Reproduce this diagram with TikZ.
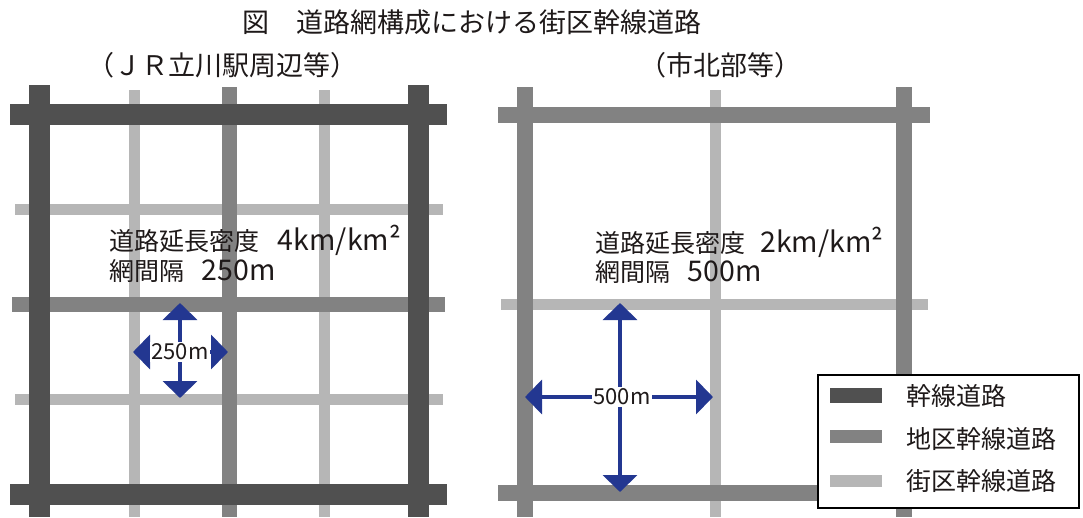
\documentclass[tikz,border=0pt]{standalone}
\usepackage{fontspec}
\setmainfont{Noto Sans CJK JP}
\usetikzlibrary{arrows.meta}
\definecolor{roadA}{RGB}{80,80,80}
\definecolor{roadB}{RGB}{130,130,130}
\definecolor{roadC}{RGB}{182,182,182}
\definecolor{arrowblue}{RGB}{35,55,145}
\definecolor{ink}{RGB}{30,25,25}
\newcommand{\latn}[1]{{\fontsize{28.5}{30}\selectfont #1}}
\begin{document}
\begin{tikzpicture}[x=1pt,y=-1pt,
  mainroad/.style={draw=roadA,line width=21pt},
  midroad/.style={draw=roadB,line width=15pt},
  minroad/.style={draw=roadC,line width=11pt},
  midroadR/.style={draw=roadB,line width=16pt},
  txt/.style={text=ink,inner sep=0pt,font=\fontsize{25}{30}\selectfont},
  ttl/.style={text=ink,inner sep=0pt,font=\fontsize{27}{32}\selectfont},
  dimarrow/.style={draw=arrowblue,line width=4pt,{Triangle[length=17pt,width=34pt]}-{Triangle[length=17pt,width=34pt]}},
  dimlabel/.style={text=ink,fill=white,inner sep=1.5pt,font=\fontsize{22}{26}\selectfont},
  legendbox/.style={draw=black,line width=1.5pt,fill=white,minimum width=261pt,minimum height=133pt,inner sep=0pt}
]
\useasboundingbox (0,0) rectangle (1083,517);

% titles
\node[ttl] (title) at (472,22) {図　道路網構成における街区幹線道路};
\node[ttl] (subL) at (222,65) {（ＪＲ立川駅周辺等）};
\node[ttl] (subR) at (720,65) {（市北部等）};

% ---------- left grid ----------
\draw[minroad] (134,90) -- (134,517);
\draw[minroad] (324,90) -- (324,517);
\draw[minroad] (15,209) -- (443,209);
\draw[minroad] (15,399) -- (443,399);
\draw[midroad] (229,87) -- (229,517);
\draw[midroad] (12,304) -- (445,304);
\draw[mainroad] (39,85) -- (39,517);
\draw[mainroad] (418,85) -- (418,517);
\draw[mainroad] (10,114) -- (447,114);
\draw[mainroad] (10,494) -- (447,494);

\node[txt,anchor=west] (densL) at (109,240) {道路延長密度\hspace{0.75em}\latn{4km/km²}};
\node[txt,anchor=west] (spacL) at (109,271) {網間隔\hspace{0.7em}\latn{250m}};

\coordinate (lTop) at (180,303);
\coordinate (lBot) at (180,398);
\coordinate (lLeft) at (133,352);
\coordinate (lRight) at (228,352);
\draw[dimarrow] (lBot) -- (lTop);
\draw[dimarrow] (lLeft) -- (lRight);
\node[dimlabel] (lLab) at (180,352) {250m};

% ---------- right grid ----------
\draw[minroad] (715,90) -- (715,517);
\draw[minroad] (501,304) -- (928,304);
\draw[midroadR] (525,87) -- (525,517);
\draw[midroadR] (904,87) -- (904,517);
\draw[midroadR] (498,115) -- (930,115);
\draw[midroadR] (498,493) -- (930,493);

\node[txt,anchor=west] (densR) at (595,242) {道路延長密度\hspace{0.6em}\latn{2km/km²}};
\node[txt,anchor=west] (spacR) at (595,272) {網間隔\hspace{0.7em}\latn{500m}};

\coordinate (rTop) at (620,303);
\coordinate (rBot) at (620,492);
\coordinate (rLeft) at (525,397);
\coordinate (rRight) at (713,397);
\draw[dimarrow] (rBot) -- (rTop);
\draw[dimarrow] (rLeft) -- (rRight);
\node[dimlabel] (rLab) at (622,397) {500m};

% ---------- legend ----------
\node[legendbox] (legend) at (948.5,441.5) {};
\fill[roadA] (830,388) rectangle (882,403);
\fill[roadB] (830,430) rectangle (882,443);
\fill[roadC] (830,475) rectangle (882,487);
\node[txt,anchor=west] (legA) at (906,396) {幹線道路};
\node[txt,anchor=west] (legB) at (906,439) {地区幹線道路};
\node[txt,anchor=west] (legC) at (906,481) {街区幹線道路};
\end{tikzpicture}
\end{document}
